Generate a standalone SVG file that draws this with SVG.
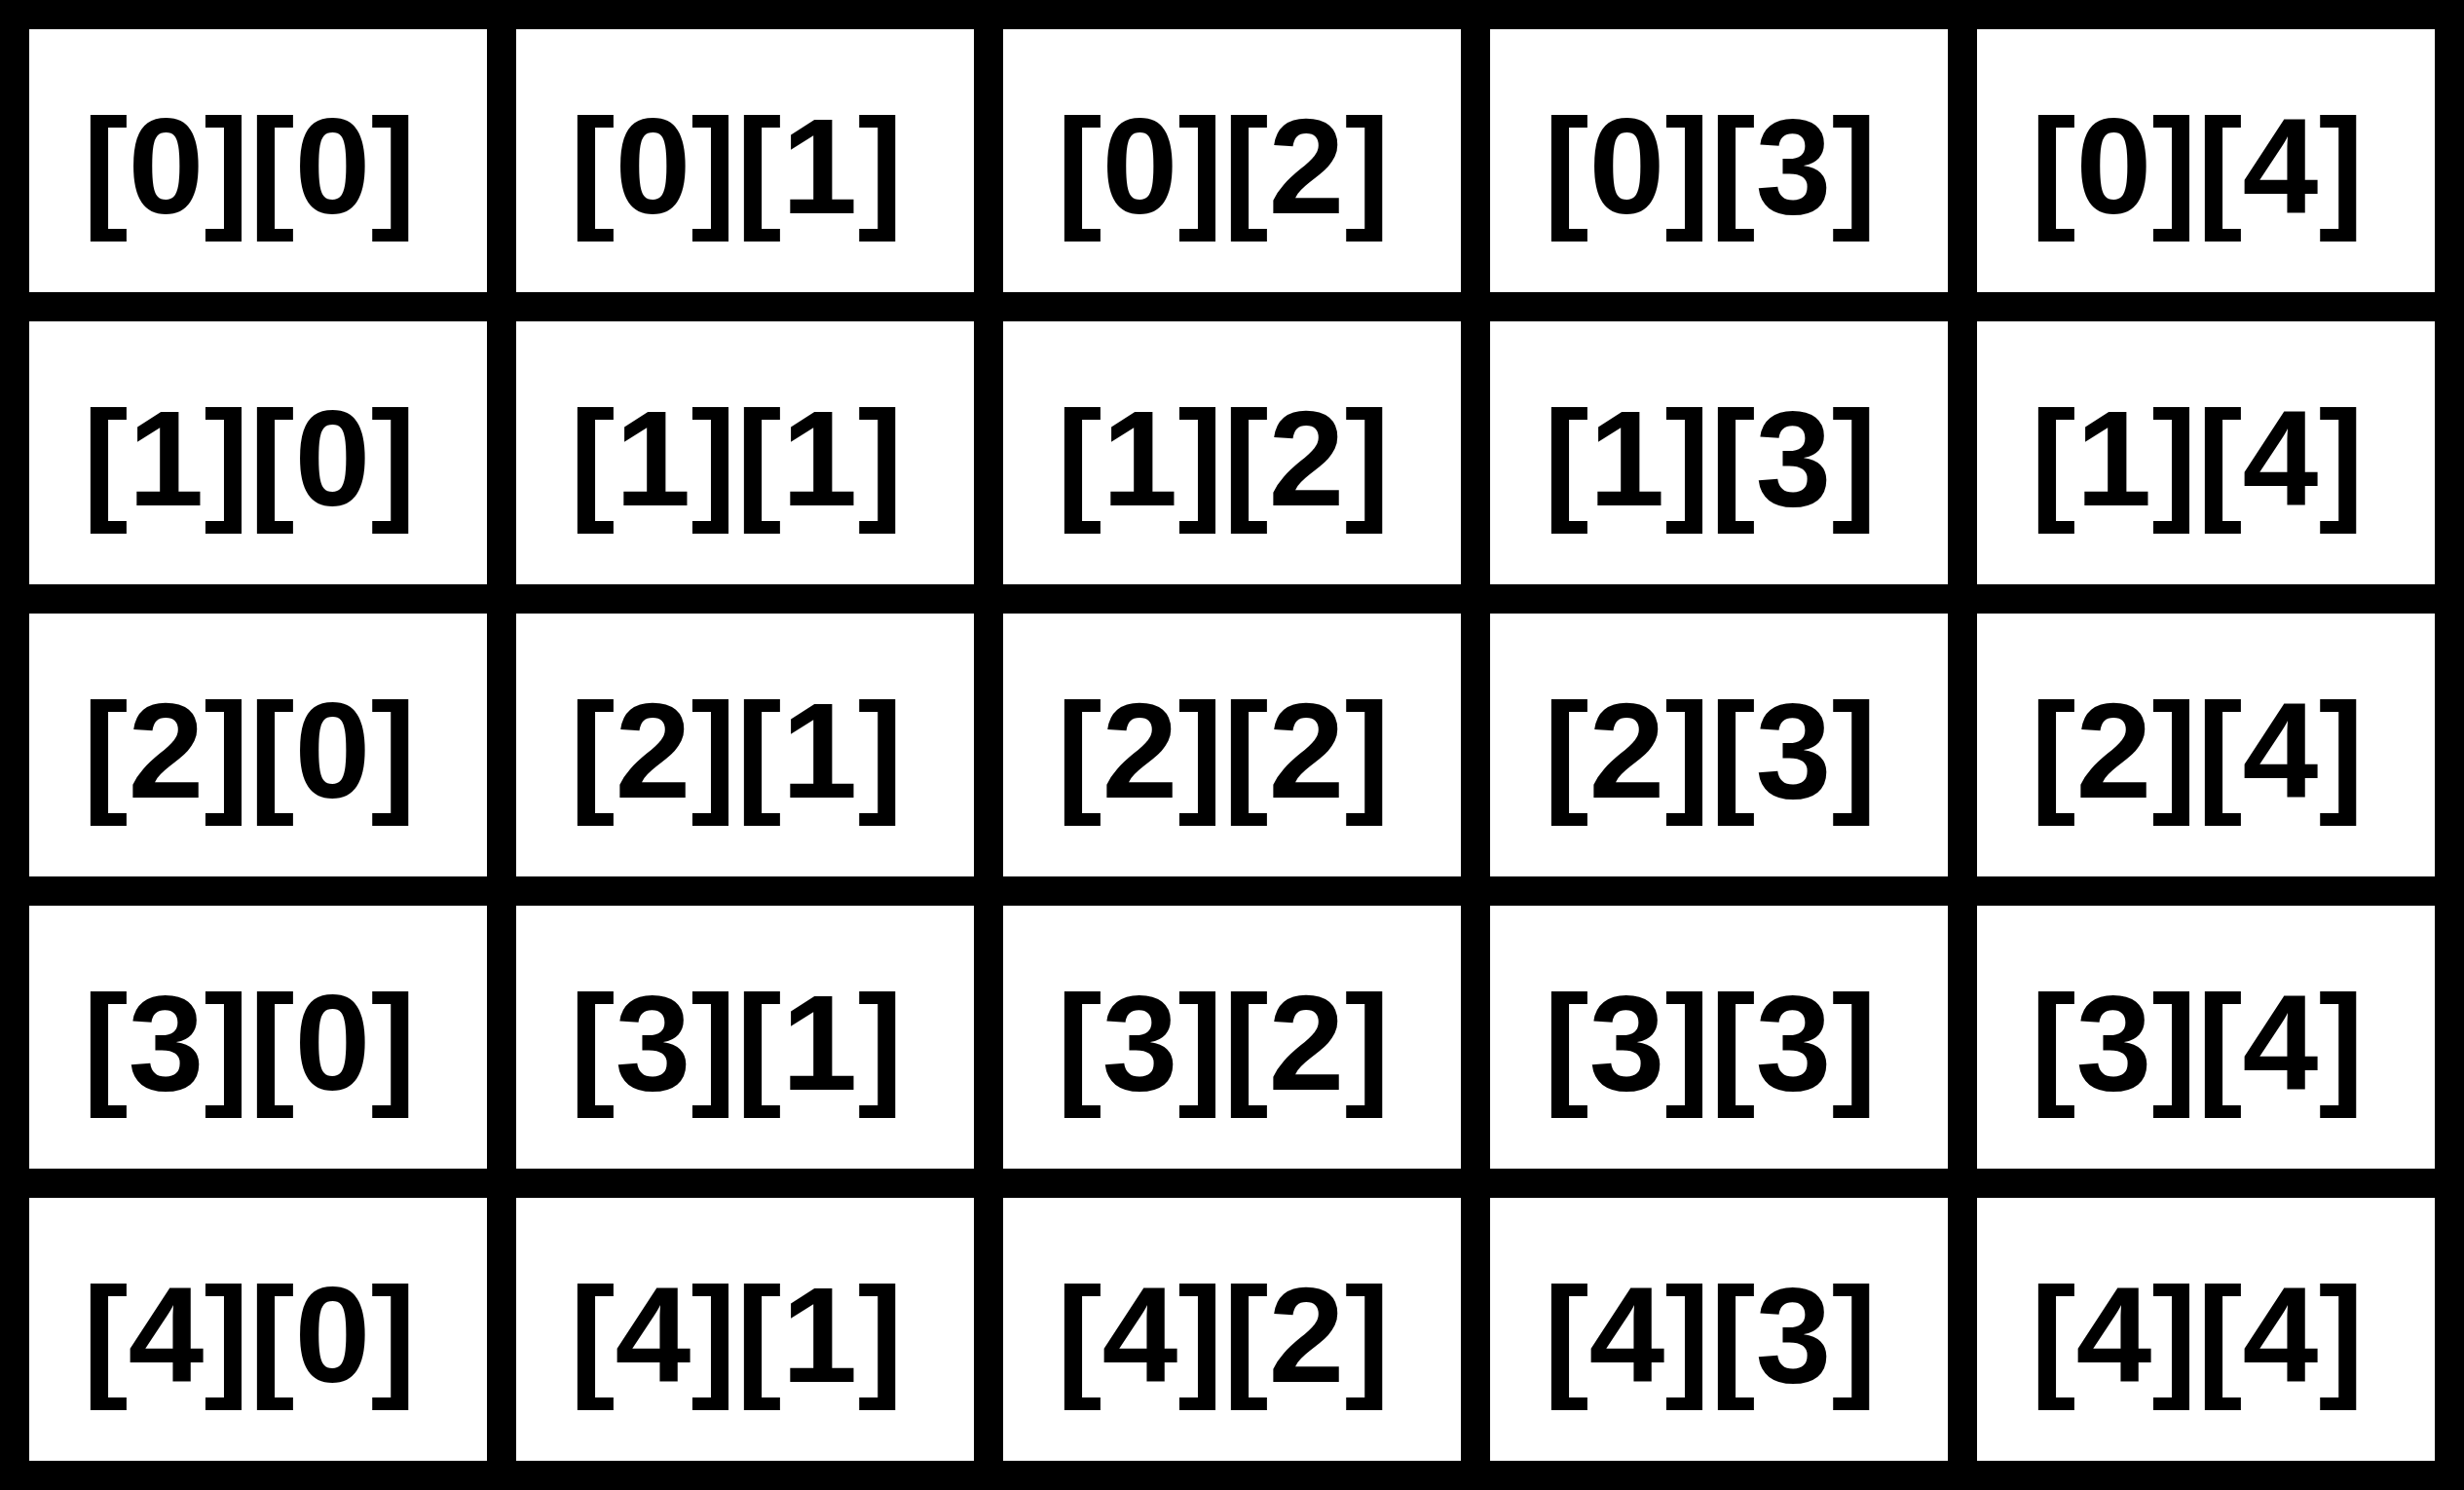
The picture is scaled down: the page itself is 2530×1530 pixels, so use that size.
<svg xmlns="http://www.w3.org/2000/svg" width="2530" height="1530" viewBox="0 0 2530 1530">
<style>
.cell rect{fill:#fff;stroke:#000;stroke-width:30;stroke-linejoin:miter}
.cell text{font-family:"Liberation Sans",Arial,Helvetica,sans-serif;font-weight:bold;font-size:140px;fill:#000;text-anchor:middle}
</style>
<rect x="0" y="0" width="2530" height="1530" fill="#000"/>
<g id="cell-0-0" class="cell"><rect x="15" y="15" width="500" height="300"/><text x="256" y="218.5">[0][0]</text></g>
<g id="cell-0-1" class="cell"><rect x="515" y="15" width="500" height="300"/><text x="756" y="218.5">[0][1]</text></g>
<g id="cell-0-2" class="cell"><rect x="1015" y="15" width="500" height="300"/><text x="1256" y="218.5">[0][2]</text></g>
<g id="cell-0-3" class="cell"><rect x="1515" y="15" width="500" height="300"/><text x="1756" y="218.5">[0][3]</text></g>
<g id="cell-0-4" class="cell"><rect x="2015" y="15" width="500" height="300"/><text x="2256" y="218.5">[0][4]</text></g>
<g id="cell-1-0" class="cell"><rect x="15" y="315" width="500" height="300"/><text x="256" y="518.5">[1][0]</text></g>
<g id="cell-1-1" class="cell"><rect x="515" y="315" width="500" height="300"/><text x="756" y="518.5">[1][1]</text></g>
<g id="cell-1-2" class="cell"><rect x="1015" y="315" width="500" height="300"/><text x="1256" y="518.5">[1][2]</text></g>
<g id="cell-1-3" class="cell"><rect x="1515" y="315" width="500" height="300"/><text x="1756" y="518.5">[1][3]</text></g>
<g id="cell-1-4" class="cell"><rect x="2015" y="315" width="500" height="300"/><text x="2256" y="518.5">[1][4]</text></g>
<g id="cell-2-0" class="cell"><rect x="15" y="615" width="500" height="300"/><text x="256" y="818.5">[2][0]</text></g>
<g id="cell-2-1" class="cell"><rect x="515" y="615" width="500" height="300"/><text x="756" y="818.5">[2][1]</text></g>
<g id="cell-2-2" class="cell"><rect x="1015" y="615" width="500" height="300"/><text x="1256" y="818.5">[2][2]</text></g>
<g id="cell-2-3" class="cell"><rect x="1515" y="615" width="500" height="300"/><text x="1756" y="818.5">[2][3]</text></g>
<g id="cell-2-4" class="cell"><rect x="2015" y="615" width="500" height="300"/><text x="2256" y="818.5">[2][4]</text></g>
<g id="cell-3-0" class="cell"><rect x="15" y="915" width="500" height="300"/><text x="256" y="1118.5">[3][0]</text></g>
<g id="cell-3-1" class="cell"><rect x="515" y="915" width="500" height="300"/><text x="756" y="1118.5">[3][1]</text></g>
<g id="cell-3-2" class="cell"><rect x="1015" y="915" width="500" height="300"/><text x="1256" y="1118.5">[3][2]</text></g>
<g id="cell-3-3" class="cell"><rect x="1515" y="915" width="500" height="300"/><text x="1756" y="1118.5">[3][3]</text></g>
<g id="cell-3-4" class="cell"><rect x="2015" y="915" width="500" height="300"/><text x="2256" y="1118.5">[3][4]</text></g>
<g id="cell-4-0" class="cell"><rect x="15" y="1215" width="500" height="300"/><text x="256" y="1418.5">[4][0]</text></g>
<g id="cell-4-1" class="cell"><rect x="515" y="1215" width="500" height="300"/><text x="756" y="1418.5">[4][1]</text></g>
<g id="cell-4-2" class="cell"><rect x="1015" y="1215" width="500" height="300"/><text x="1256" y="1418.5">[4][2]</text></g>
<g id="cell-4-3" class="cell"><rect x="1515" y="1215" width="500" height="300"/><text x="1756" y="1418.5">[4][3]</text></g>
<g id="cell-4-4" class="cell"><rect x="2015" y="1215" width="500" height="300"/><text x="2256" y="1418.5">[4][4]</text></g>
</svg>
